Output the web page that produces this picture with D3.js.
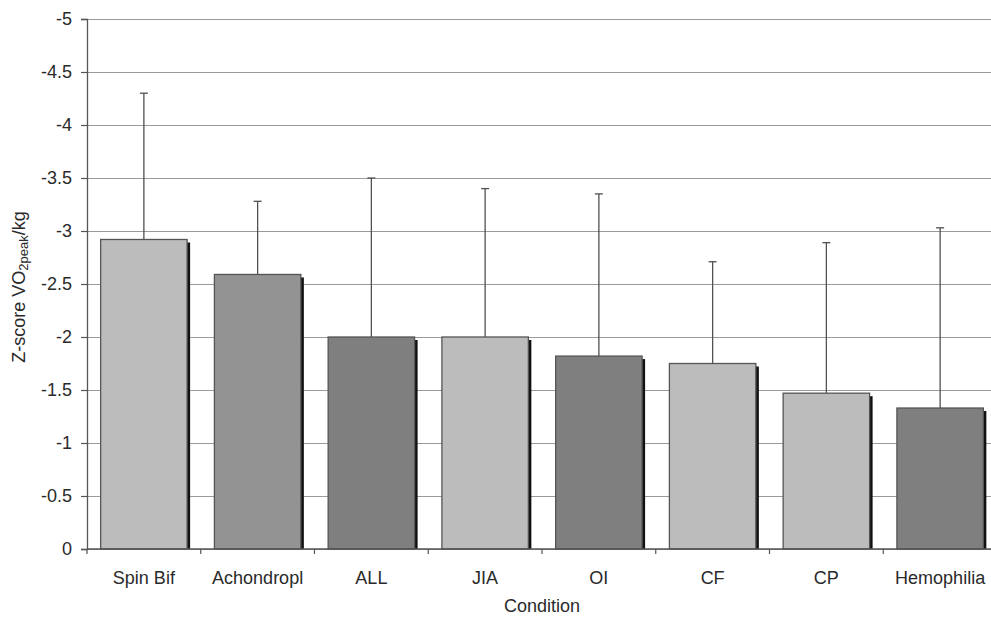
<!DOCTYPE html>
<html>
<head>
<meta charset="utf-8">
<script src="https://cdn.jsdelivr.net/npm/d3@7"></script>
<style>
  body { margin: 0; background: #fff; }
  svg { display: block; }
</style>
</head>
<body>
<div id="chart"></div>
<script>
const categories = ["Spin Bif", "Achondropl", "ALL", "JIA", "OI", "CF", "CP", "Hemophilia"];
const means = [-2.92, -2.59, -2.0, -2.0, -1.82, -1.75, -1.47, -1.33];
const errTops = [-4.3, -3.28, -3.5, -3.4, -3.35, -2.71, -2.89, -3.03];
const shades = ["light", "mid", "dark", "light", "dark", "light", "light", "dark"];
const yTicks = [0, -0.5, -1, -1.5, -2, -2.5, -3, -3.5, -4, -4.5, -5];

const width = 991;
const height = 619;
const margin = { top: 19, right: -6, bottom: 70, left: 87 };
const font = "Liberation Sans, Arial, sans-serif";
const textColor = "#2a2a2a";

const fill = { light: "#bcbcbc", mid: "#939393", dark: "#7f7f7f" };

const svg = d3.select("#chart")
  .append("svg")
  .attr("width", width)
  .attr("height", height);

const innerW = width - margin.left - margin.right;
const innerH = height - margin.top - margin.bottom;

const chart = svg.append("g")
  .attr("transform", `translate(${margin.left},${margin.top})`);

const x = d3.scaleBand()
  .domain(categories)
  .range([0, innerW])
  .paddingInner(0.24)
  .paddingOuter(0.12);

const y = d3.scaleLinear()
  .domain([0, -5])
  .range([innerH, 0]);

// gridlines
chart.append("g")
  .call(d3.axisLeft(y).tickValues(yTicks).tickSize(-innerW).tickFormat(""))
  .call(g => g.selectAll(".tick line").attr("stroke", "#9a9a9a").attr("stroke-width", 1.2))
  .call(g => g.select(".domain").remove());

// error bars (only upward part)
const capW = 8;
const err = chart.append("g").attr("stroke", "#505050").attr("stroke-width", 1.3);
categories.forEach((c, i) => {
  const cx = x(c) + x.bandwidth() / 2;
  err.append("line")
    .attr("x1", cx).attr("x2", cx)
    .attr("y1", y(means[i])).attr("y2", y(errTops[i]));
  err.append("line")
    .attr("x1", cx - capW / 2).attr("x2", cx + capW / 2)
    .attr("y1", y(errTops[i])).attr("y2", y(errTops[i]));
});

// bar shadows
chart.append("g")
  .selectAll("rect")
  .data(categories)
  .join("rect")
  .attr("x", d => x(d) + 3)
  .attr("y", (d, i) => y(means[i]) + 3)
  .attr("width", x.bandwidth())
  .attr("height", (d, i) => y(0) - y(means[i]) - 3)
  .attr("fill", "#111");

// bars
chart.append("g")
  .selectAll("rect")
  .data(categories)
  .join("rect")
  .attr("x", d => x(d))
  .attr("y", (d, i) => y(means[i]))
  .attr("width", x.bandwidth())
  .attr("height", (d, i) => y(0) - y(means[i]))
  .attr("fill", (d, i) => fill[shades[i]])
  .attr("stroke", "#555")
  .attr("stroke-width", 1.3);

// y axis
chart.append("g")
  .call(d3.axisLeft(y).tickValues(yTicks).tickSize(6).tickPadding(9).tickFormat(d => d === 0 ? "0" : String(d)))
  .call(g => g.select(".domain").attr("stroke", "#555").attr("stroke-width", 1.3))
  .call(g => g.selectAll(".tick line").attr("stroke", "#555").attr("stroke-width", 1.2))
  .call(g => g.selectAll("text")
    .attr("fill", textColor)
    .style("font-size", "18px")
    .style("font-family", font));

// x axis with ticks at band boundaries
const bounds = d3.range(categories.length + 1).map(i => i * innerW / categories.length);
chart.append("line")
  .attr("x1", 0).attr("x2", innerW)
  .attr("y1", y(0)).attr("y2", y(0))
  .attr("stroke", "#555").attr("stroke-width", 1.3);
chart.append("g")
  .selectAll("line")
  .data(bounds)
  .join("line")
  .attr("x1", d => d).attr("x2", d => d)
  .attr("y1", y(0)).attr("y2", y(0) + 5)
  .attr("stroke", "#555").attr("stroke-width", 1.2);

chart.append("g")
  .selectAll("text")
  .data(categories)
  .join("text")
  .attr("x", d => x(d) + x.bandwidth() / 2)
  .attr("y", y(0) + 35)
  .attr("text-anchor", "middle")
  .attr("fill", textColor)
  .style("font-size", "18px")
  .style("font-family", font)
  .text(d => d);

// axis titles
chart.append("text")
  .attr("x", innerW / 2)
  .attr("y", y(0) + 63)
  .attr("text-anchor", "middle")
  .attr("fill", textColor)
  .style("font-size", "18px")
  .style("font-family", font)
  .text("Condition");

const yt = svg.append("text")
  .attr("transform", "rotate(-90)")
  .attr("x", -287)
  .attr("y", 25)
  .attr("text-anchor", "middle")
  .attr("fill", textColor)
  .style("font-size", "18px")
  .style("font-family", font);
yt.append("tspan").text("Z-score VO");
yt.append("tspan").attr("dy", 3).style("font-size", "13px").text("2peak");
yt.append("tspan").attr("dy", -3).text("/kg");
</script>
</body>
</html>
